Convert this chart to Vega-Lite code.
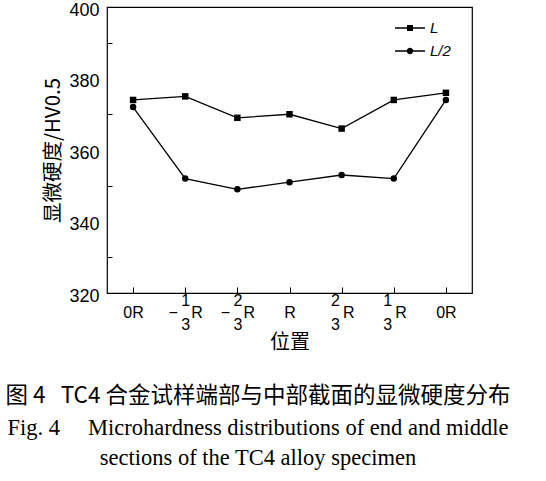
{
  "$schema": "https://vega.github.io/schema/vega-lite/v6.json",
  "width": 365,
  "height": 286,
  "autosize": "none",
  "padding": {"left": 107, "top": 7, "right": 74, "bottom": 188},
  "background": "white",
  "config": {
    "view": {"stroke": "black", "strokeWidth": 1.2},
    "axis": {"domainColor": "black", "tickColor": "black", "labelColor": "black", "titleColor": "black", "grid": false}
  },
  "title": {
    "text": "图 4\u00a0\u00a0\u00a0TC4 合金试样端部与中部截面的显微硬度分布",
    "subtitle": ["Fig. 4\u00a0\u00a0\u00a0\u00a0\u00a0Microhardness distributions of end and middle", "sections of the TC4 alloy specimen"],
    "orient": "bottom",
    "anchor": "middle",
    "frame": "bounds",
    "font": "Noto Sans CJK SC",
    "fontSize": 22.5,
    "fontWeight": "normal",
    "color": "black",
    "subtitleFont": "Liberation Serif",
    "subtitleFontSize": 22.5,
    "subtitleColor": "black",
    "subtitleLineHeight": 30,
    "subtitlePadding": 9,
    "offset": 33
  },
  "data": {
    "values": [
      {"pos": "p1", "series": "L", "v": 374},
      {"pos": "p2", "series": "L", "v": 375},
      {"pos": "p3", "series": "L", "v": 369},
      {"pos": "p4", "series": "L", "v": 370},
      {"pos": "p5", "series": "L", "v": 366},
      {"pos": "p6", "series": "L", "v": 374},
      {"pos": "p7", "series": "L", "v": 376},
      {"pos": "p1", "series": "L/2", "v": 372},
      {"pos": "p2", "series": "L/2", "v": 352},
      {"pos": "p3", "series": "L/2", "v": 349},
      {"pos": "p4", "series": "L/2", "v": 351},
      {"pos": "p5", "series": "L/2", "v": 353},
      {"pos": "p6", "series": "L/2", "v": 352},
      {"pos": "p7", "series": "L/2", "v": 374}
    ]
  },
  "encoding": {
    "x": {
      "field": "pos",
      "type": "ordinal",
      "scale": {"type": "point", "padding": 0.5},
      "axis": {
        "title": "位置",
        "titleFont": "Noto Sans CJK SC",
        "titleFontSize": 20,
        "titleFontWeight": "normal",
        "titlePadding": 0,
        "labelAngle": 0,
        "labelFont": "Liberation Sans",
        "labelFontSize": 16,
        "labelLineHeight": 12,
        "labelPadding": 5,
        "tickSize": -6,
        "domain": false,
        "labelExpr": "datum.value == 'p1' || datum.value == 'p7' ? ['\u200b', '0R', '\u200b'] : datum.value == 'p2' ? ['\u200b\u00a0\u00a0\u00a01\u00a0\u00a0\u00a0\u200b', '\u2212\u00a0\u00a0\u00a0R', '\u200b\u00a0\u00a0\u00a03\u00a0\u00a0\u00a0\u200b'] : datum.value == 'p3' ? ['\u200b\u00a0\u00a0\u00a02\u00a0\u00a0\u00a0\u200b', '\u2212\u00a0\u00a0\u00a0R', '\u200b\u00a0\u00a0\u00a03\u00a0\u00a0\u00a0\u200b'] : datum.value == 'p4' ? ['\u200b', 'R', '\u200b'] : datum.value == 'p5' ? ['2\u00a0\u00a0\u00a0\u200b', '\u200b\u00a0\u00a0\u00a0R', '3\u00a0\u00a0\u00a0\u200b'] : ['1\u00a0\u00a0\u00a0\u200b', '\u200b\u00a0\u00a0\u00a0R', '3\u00a0\u00a0\u00a0\u200b']"
      }
    },
    "y": {
      "field": "v",
      "type": "quantitative",
      "scale": {"domain": [320, 400], "nice": false, "zero": false},
      "axis": {
        "title": "显微硬度/HV0.5",
        "titleFont": "Noto Sans CJK SC",
        "titleFontSize": 20.5,
        "titleFontWeight": "normal",
        "titlePadding": 5,
        "values": [320, 330, 340, 350, 360, 370, 380, 390, 400],
        "labelExpr": "datum.value % 20 === 0 ? datum.label : ''",
        "labelFont": "Liberation Sans",
        "labelFontSize": 18,
        "labelPadding": 13,
        "labelOffset": 3,
        "labelBound": false,
        "tickSize": -5,
        "tickOpacity": {"condition": {"test": "datum.value % 20 === 0", "value": 0}, "value": 1},
        "domain": false
      }
    }
  },
  "layer": [
    {
      "mark": {"type": "line", "color": "black", "strokeWidth": 1.3},
      "encoding": {"detail": {"field": "series"}}
    },
    {
      "mark": {"type": "point", "filled": true, "color": "black", "opacity": 1, "size": 42},
      "encoding": {
        "shape": {"field": "series", "type": "nominal", "scale": {"domain": ["L", "L/2"], "range": ["square", "circle"]}, "legend": null}
      }
    },
    {
      "mark": {"type": "point", "filled": true, "fill": "black", "opacity": 0, "size": 900},
      "encoding": {
        "shape": {
          "field": "series",
          "type": "nominal",
          "scale": {"domain": ["L", "L/2"], "range": ["M-1,-0.045H1V0.045H-1ZM-0.2,-0.2H0.2V0.2H-0.2Z", "M-1,-0.045H1V0.045H-1ZM-0.22,0A0.22,0.22,0,1,1,0.22,0A0.22,0.22,0,1,1,-0.22,0Z"]},
          "legend": {
            "title": null,
            "orient": "none",
            "legendX": 288,
            "legendY": 6,
            "padding": 0,
            "symbolSize": 900,
            "symbolOpacity": 1,
            "symbolFillColor": "black",
            "symbolStrokeWidth": 0,
            "labelFont": "Liberation Sans",
            "labelFontStyle": "italic",
            "labelFontSize": 15,
            "labelColor": "black",
            "labelOffset": 5,
            "rowPadding": -11
          }
        }
      }
    }
  ],
  "resolve": {"scale": {"shape": "independent"}, "legend": {"shape": "independent"}}
}
